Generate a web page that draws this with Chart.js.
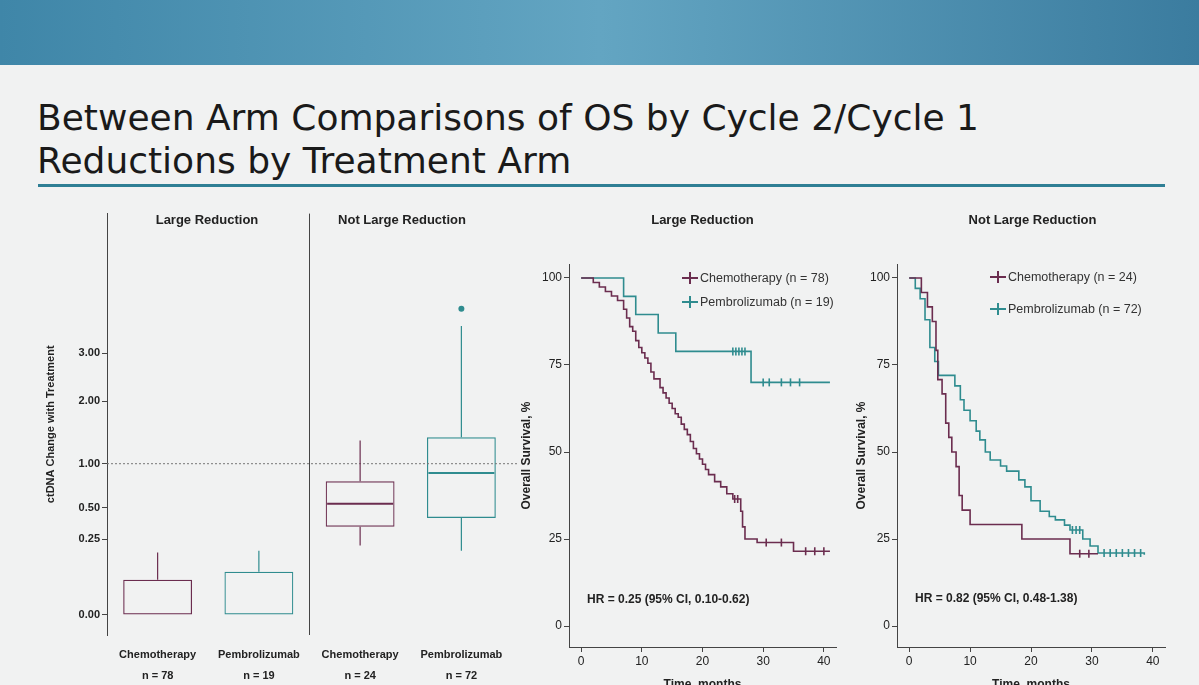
<!DOCTYPE html>
<html lang="en">
<head>
<meta charset="UTF-8">
<title>Between Arm Comparisons of OS</title>
<script src="https://cdn.jsdelivr.net/npm/chart.js"></script>
<style>
  body { margin:0; width:1199px; height:685px; overflow:hidden; background:#f1f2f2; font-family:"Liberation Sans", Arial, sans-serif; position:relative; }
  .band { position:absolute; left:0; top:0; width:1199px; height:65px; background:linear-gradient(90deg,#3f86a8,#63a5c2 50%,#3b7c9f); }
  .title { position:absolute; left:37px; top:96px; font-family:"DejaVu Sans", sans-serif; font-size:36px; line-height:43px; color:#1a1a1a; }
  .rule { position:absolute; left:38px; top:184px; width:1127px; height:3px; background:#2f7f95; }
  .ptitle { position:absolute; font-size:13px; font-weight:bold; color:#222; text-align:center; }
  .cv { position:absolute; }
  .legend { position:absolute; font-size:12.5px; color:#333; }
  .legend div { height:24px; display:flex; align-items:center; }
  .mk { display:inline-block; position:relative; width:16px; height:2px; margin-right:2px; }
  .mk::after { content:""; position:absolute; left:7px; top:-5px; width:2px; height:12px; background:inherit; }
  .hr { position:absolute; font-size:12px; font-weight:bold; color:#222; }
</style>
</head>
<body>
<div class="band"></div>
<div class="title">Between Arm Comparisons of OS by Cycle 2/Cycle 1<br>Reductions by Treatment Arm</div>
<div class="rule"></div>

<canvas id="box" class="cv" style="left:40px;top:205px" width="480" height="476"></canvas>
<canvas id="kmL" class="cv" style="left:515px;top:205px" width="330" height="487"></canvas>
<canvas id="kmN" class="cv" style="left:850px;top:205px" width="330" height="487"></canvas>

<div class="ptitle" style="left:107px;top:212px;width:200px">Large Reduction</div>
<div class="ptitle" style="left:302px;top:212px;width:200px">Not Large Reduction</div>
<div class="ptitle" style="left:580px;top:212px;width:245px">Large Reduction</div>
<div class="ptitle" style="left:910px;top:212px;width:245px">Not Large Reduction</div>

<div class="legend" style="left:682px;top:266px">
  <div><span class="mk" style="background:#6b2d4f"></span>Chemotherapy (n = 78)</div>
  <div><span class="mk" style="background:#2f8c8f"></span>Pembrolizumab (n = 19)</div>
</div>
<div class="legend" style="left:990px;top:265px">
  <div><span class="mk" style="background:#6b2d4f"></span>Chemotherapy (n = 24)</div>
  <div style="margin-top:8px"><span class="mk" style="background:#2f8c8f"></span>Pembrolizumab (n = 72)</div>
</div>
<div class="hr" style="left:587px;top:592px">HR = 0.25 (95% CI, 0.10-0.62)</div>
<div class="hr" style="left:915px;top:591px">HR = 0.82 (95% CI, 0.48-1.38)</div>

<script>
const CHEMO = '#6b2d4f', PEMBRO = '#2f8c8f';

// ---- box plot data (ctDNA ratio) ----
const boxCats = ['Chemotherapy', 'Pembrolizumab', 'Chemotherapy', 'Pembrolizumab'];
const boxN = ['n = 78', 'n = 19', 'n = 24', 'n = 72'];
const boxColors = [CHEMO, PEMBRO, CHEMO, PEMBRO];
const whiskerLow = [0, 0, 0.21, 0.18];
const q1 = [0, 0, 0.34, 0.41];
const median = [0, 0, 0.54, 0.88];
const q3 = [0.054, 0.081, 0.78, 1.38];
const whiskerHigh = [0.17, 0.18, 1.33, 3.65];
const outliers = [[], [], [], [4.1]];
const ratioTicks = [0, 0.25, 0.5, 1, 2, 3];

// ---- Kaplan-Meier data ----
const chemoLT = [0,2,3,4,5,6,7,7.5,8,8.5,9,9.5,10,10.5,11,11.5,12,13,13.5,14,14.5,15,15.5,16,16.5,17,17.5,18,18.5,19,19.5,20,20.5,21,22,23,24,25,26.3,26.6,27,29,35,41];
const chemoLS = [100,98.7,97.4,96.1,94.8,93.5,91,88.5,86,84.7,82,80,78.5,77,75.5,73,71,68.5,67,65.5,64,62.5,61,60,58,56.5,55,53,51,49.5,48,46.5,45,43.5,41.5,40,38,36.5,33,28.5,25,24,21.5,21.5];
const chemoLCensT = [25.3,25.8,30.5,33,37,38.5,40];
const chemoLCensS = [36.5,36.5,24,24,21.5,21.5,21.5];
const pembroLT = [0,7,9,12.7,15.6,28,41];
const pembroLS = [100,94.7,89.5,84.2,78.9,70,70];
const pembroLCensT = [25,25.5,26,26.5,27,30,31,33,34.5,36];
const pembroLCensS = [78.9,78.9,78.9,78.9,78.9,70,70,70,70,70];

const chemoNT = [0,2,3,3.8,4.4,4.7,5.4,6,6.5,7,7.7,8.2,8.7,10,18.5,26.4,31];
const chemoNS = [100,95.8,91.7,87.5,79.2,70.8,66.7,58.3,54.2,50,45.8,37.5,33.3,29.2,25,20.8,20.8];
const chemoNCensT = [28,29.5];
const chemoNCensS = [20.8,20.8];
const pembroNT = [0,1,1.8,2.6,3.4,4.2,4.8,7.5,8.4,9,10,11,11.6,12.5,13.3,15,16,18,19,20,21.5,23,24,25.5,26.4,28.5,29.7,31,38.6];
const pembroNS = [100,97,94,88,80,76,72,69,65,62,59,56,53.5,50,47.7,46,44.5,42,40,36,33,31.5,30.5,29,27.6,25,23,21,20.5];
const pembroNCensT = [26.8,27.4,28,32,33,34,35,36,37,38];
const pembroNCensS = [27.6,27.6,27.6,21,21,21,21,21,21,21];

const monthTicks = [0, 10, 20, 30, 40];
const survTicks = [0, 25, 50, 75, 100];

Chart.defaults.font.family = '"Liberation Sans", Arial, sans-serif';
Chart.defaults.color = '#222';
Chart.defaults.animation = false;

const tickGrid = { display: true, drawOnChartArea: false, drawTicks: true, tickLength: 5, color: '#444' };

// box plot: sqrt scale, whiskers / medians drawn with the scales
const boxExtras = {
  id: 'boxExtras',
  afterDatasetsDraw(chart) {
    const {ctx, scales: {x, y}, chartArea: a} = chart;
    ctx.save();
    ctx.setLineDash([2, 2]);
    ctx.strokeStyle = '#777';
    ctx.lineWidth = 1;
    ctx.beginPath();
    ctx.moveTo(a.left, y.getPixelForValue(1)); ctx.lineTo(a.right + 5, y.getPixelForValue(1));
    ctx.stroke();
    ctx.setLineDash([]);
    const mid = (x.getPixelForValue(1) + x.getPixelForValue(2)) / 2;
    ctx.strokeStyle = '#444';
    ctx.beginPath(); ctx.moveTo(mid, a.top); ctx.lineTo(mid, a.bottom); ctx.stroke();
    boxCats.forEach((c, i) => {
      const cx = x.getPixelForValue(i);
      ctx.strokeStyle = boxColors[i];
      ctx.lineWidth = 1.2;
      ctx.beginPath();
      ctx.moveTo(cx, y.getPixelForValue(Math.sqrt(q3[i])));
      ctx.lineTo(cx, y.getPixelForValue(Math.sqrt(whiskerHigh[i])));
      if (q1[i] > whiskerLow[i]) {
        ctx.moveTo(cx, y.getPixelForValue(Math.sqrt(q1[i])));
        ctx.lineTo(cx, y.getPixelForValue(Math.sqrt(whiskerLow[i])));
      }
      ctx.stroke();
      if (median[i] > 0) {
        const bw = 66;
        ctx.lineWidth = 2;
        ctx.beginPath();
        ctx.moveTo(cx - bw / 2, y.getPixelForValue(Math.sqrt(median[i])));
        ctx.lineTo(cx + bw / 2, y.getPixelForValue(Math.sqrt(median[i])));
        ctx.stroke();
      }
      ctx.fillStyle = boxColors[i];
      outliers[i].forEach(v => {
        ctx.beginPath(); ctx.arc(cx, y.getPixelForValue(Math.sqrt(v)), 3, 0, Math.PI * 2); ctx.fill();
      });
    });
    ctx.restore();
  }
};

new Chart(document.getElementById('box'), {
  type: 'bar',
  data: {
    labels: boxCats.map((c, i) => [c, boxN[i]]),
    datasets: [{
      data: boxCats.map((c, i) => [Math.sqrt(q1[i]), Math.sqrt(q3[i])]),
      backgroundColor: 'rgba(0,0,0,0)',
      borderColor: boxColors,
      borderWidth: 1.2,
      borderSkipped: false,
      barPercentage: 0.68,
      categoryPercentage: 1
    }]
  },
  options: {
    responsive: false,
    layout: { padding: { top: 0, right: 8 } },
    plugins: { legend: { display: false }, tooltip: { enabled: false } },
    scales: {
      x: {
        grid: { display: false, drawTicks: false },
        border: { display: false },
        ticks: { font: { size: 11, weight: 'bold', lineHeight: 1.9 }, padding: 10, maxRotation: 0 },
        afterFit(s) { s.height = 46; }
      },
      y: {
        min: -0.133, max: 2.654,
        afterBuildTicks(s) { s.ticks = ratioTicks.map(v => ({ value: Math.sqrt(v) })); },
        ticks: { callback: v => (v * v).toFixed(2), font: { size: 11, weight: 'bold' }, padding: 2 },
        grid: tickGrid,
        border: { color: '#444' },
        title: { display: true, text: 'ctDNA Change with Treatment', font: { size: 11, weight: 'bold' } },
        afterFit(s) { s.width = 67; }
      }
    }
  },
  plugins: [boxExtras]
});

function kmChart(id, axisW, padRight, sets) {
  const datasets = [];
  sets.forEach(st => {
    datasets.push({
      type: 'line', data: st.t.map((t, i) => ({ x: t, y: st.s[i] })),
      borderColor: st.color, borderWidth: 1.6, stepped: true, pointRadius: 0, fill: false
    });
    datasets.push({
      type: 'scatter', data: st.ct.map((t, i) => ({ x: t, y: st.cs[i] })),
      borderColor: st.color, pointStyle: 'line', rotation: 90, pointRadius: 4, borderWidth: 1.6
    });
  });
  new Chart(document.getElementById(id), {
    type: 'line',
    data: { datasets },
    options: {
      responsive: false,
      layout: { padding: { top: 59, right: padRight } },
      plugins: { legend: { display: false }, tooltip: { enabled: false } },
      scales: {
        x: {
          type: 'linear', min: -2, max: 42,
          afterBuildTicks(s) { s.ticks = monthTicks.map(v => ({ value: v })); },
          grid: tickGrid,
          border: { color: '#444' },
          ticks: { font: { size: 12 }, padding: 2 },
          title: { display: true, text: 'Time, months', font: { size: 12, weight: 'bold' }, padding: 0 },
          afterFit(s) { s.height = 45; }
        },
        y: {
          min: -6, max: 104,
          afterBuildTicks(s) { s.ticks = survTicks.map(v => ({ value: v })); },
          grid: tickGrid,
          border: { color: '#444' },
          ticks: { font: { size: 12 }, padding: 2 },
          title: { display: true, text: 'Overall Survival, %', font: { size: 12, weight: 'bold' } },
          afterFit(s) { s.width = axisW; }
        }
      }
    }
  });
}

kmChart('kmL', 54, 9, [
  { t: chemoLT, s: chemoLS, ct: chemoLCensT, cs: chemoLCensS, color: CHEMO },
  { t: pembroLT, s: pembroLS, ct: pembroLCensT, cs: pembroLCensS, color: PEMBRO }
]);
kmChart('kmN', 47, 15, [
  { t: chemoNT, s: chemoNS, ct: chemoNCensT, cs: chemoNCensS, color: CHEMO },
  { t: pembroNT, s: pembroNS, ct: pembroNCensT, cs: pembroNCensS, color: PEMBRO }
]);
</script>
</body>
</html>
